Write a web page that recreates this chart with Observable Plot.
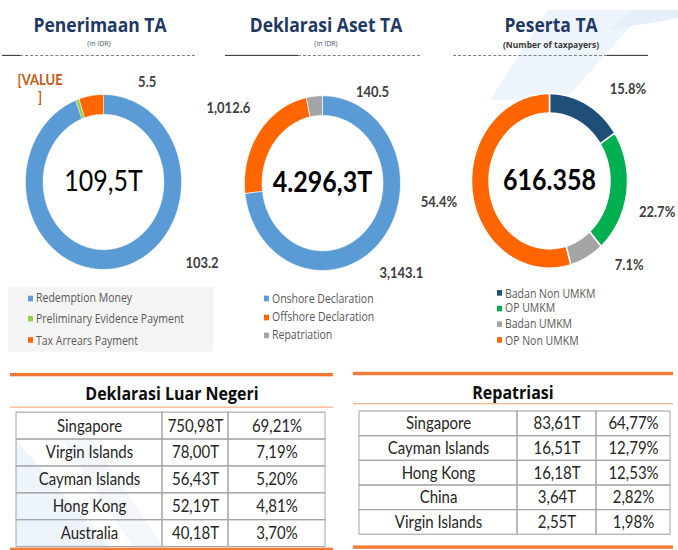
<!DOCTYPE html>
<html><head><meta charset="utf-8">
<script src="https://cdn.jsdelivr.net/npm/d3@7"></script>
<script src="https://cdn.jsdelivr.net/npm/@observablehq/plot@0.6"></script>
<style>
html,body{margin:0;padding:0;background:#fff;width:678px;height:550px;overflow:hidden;}
#page{position:relative;width:678px;height:491px;transform:scaleY(1.12);transform-origin:0 0;overflow:visible;font-family:Lato,sans-serif;}
#page svg{overflow:visible;}
</style></head><body><div id="page"></div>
<script>
// ---------- data ----------
const receiptCategories = ["Redemption Money", "Preliminary Evidence Payment", "Tax Arrears Payment"];
const receiptValues = [103.2, 0.8, 5.5];
const receiptLabels = ["103.2", "[VALUE\n]", "5.5"];
const receiptTotal = "109,5T";

const assetCategories = ["Onshore Declaration", "Offshore Declaration", "Repatriation"];
const assetValues = [3143.1, 1012.6, 140.5];
const assetLabels = ["3,143.1", "1,012.6", "140.5"];
const assetTotal = "4.296,3T";

const participantCategories = ["Badan Non UMKM", "OP UMKM", "Badan UMKM", "OP Non UMKM"];
const participantShares = [15.8, 22.7, 7.1, 54.4];
const participantLabels = ["15.8%", "22.7%", "7.1%", "54.4%"];
const participantTotal = "616.358";

const offshoreCountries = ["Singapore", "Virgin Islands", "Cayman Islands", "Hong Kong", "Australia"];
const offshoreAmounts = ["750,98T", "78,00T", "56,43T", "52,19T", "40,18T"];
const offshoreShares = ["69,21%", "7,19%", "5,20%", "4,81%", "3,70%"];

const repatCountries = ["Singapore", "Cayman Islands", "Hong Kong", "China", "Virgin Islands"];
const repatAmounts = ["83,61T", "16,51T", "16,18T", "3,64T", "2,55T"];
const repatShares = ["64,77%", "12,79%", "12,53%", "2,82%", "1,98%"];

// ---------- styles ----------
const S = 1.12; // vertical stretch of the reference
const receiptColors = ["#5B9BD5", "#92D050", "#FF6600"];
const assetColors = ["#5B9BD5", "#FF6600", "#A5A5A5"];
const participantColors = ["#1F4E79", "#00B050", "#A5A5A5", "#FF6600"];

const page = document.getElementById("page");
function add(el, css) { el.style.position = "absolute"; Object.assign(el.style, css); page.appendChild(el); return el; }
function text(t, x, yRef, css, align = "center") {
  const d = document.createElement("div");
  d.textContent = t; d.style.whiteSpace = "pre"; d.style.lineHeight = "1";
  d.style.transform = `translate(${align === "center" ? "-50%" : "0"},-50%)`;
  return add(d, Object.assign({left: x + "px", top: (yRef / S) + "px"}, css));
}
function hline(x1, x2, yRef, w, style, color) {
  add(document.createElement("div"), {left: x1 + "px", top: (yRef / S - w / 2) + "px", width: (x2 - x1) + "px", height: "0", borderTop: `${w}px ${style} ${color}`});
}

// ---------- faint background decoration ----------
(function () {
  const ns = "http://www.w3.org/2000/svg";
  const bg = document.createElementNS(ns, "svg");
  bg.setAttribute("width", 678); bg.setAttribute("height", 491);
  const shapes = [
    {p: [[490, 100], [548, 10], [645, 10], [565, 100]], c: "#EDF4FB"},
    {p: [[610, 30], [632, 10], [678, 10], [678, 18]], c: "#E6EFF9"},
    {p: [[16, 440], [16, 550], [112, 550]], c: "#EEF4FB"},
    {p: [[62, 440], [92, 440], [165, 550], [135, 550]], c: "#F3F7FC"}
  ];
  shapes.forEach(s => {
    const poly = document.createElementNS(ns, "polygon");
    poly.setAttribute("points", s.p.map(([x, y]) => `${x},${y / S}`).join(" "));
    poly.setAttribute("fill", s.c);
    bg.appendChild(poly);
  });
  add(bg, {left: "0px", top: "0px"});
})();

// ---------- titles ----------
const titleCss = {fontFamily: "'Open Sans'", fontWeight: "700", fontSize: "17.5px", color: "#1F3864"};
text("Penerimaan TA", 100, 25, titleCss);
text("Deklarasi Aset TA", 326, 25, titleCss);
text("Peserta TA", 551, 25, titleCss);
const subCss = {fontFamily: "'Open Sans'", fontSize: "7px", color: "#44546A"};
text("(in IDR)", 99, 44, subCss);
text("(in IDR)", 326, 44, subCss);
text("(Number of taxpayers)", 551, 45, Object.assign({}, subCss, {fontSize: "8.5px", fontWeight: "700", color: "#3B3838"}));
hline(2, 20, 55, 1, "solid", "#404040"); hline(20, 195, 55, 1, "dashed", "#7F7F7F");
hline(225, 298, 55, 1, "solid", "#404040"); hline(298, 420, 55, 1, "dashed", "#7F7F7F");
hline(453, 607, 55, 1, "dashed", "#7F7F7F"); hline(607, 648, 55, 1, "solid", "#404040");

// ---------- donuts ----------
function donut({categories, values, labels, colors, labelColors, nudges, center, centerWeight, sepWidth, cx, cyRef}) {
  const R = 78, inner = 0.775, half = 140, dom = half / R;
  const arcs = d3.pie().sort(null).value(d => d)(values);
  const pts = [];
  arcs.forEach((a, i) => {
    const n = Math.max(2, Math.ceil((a.endAngle - a.startAngle) / (Math.PI / 180)));
    for (let k = 0; k <= n; k++) { const t = a.startAngle + (a.endAngle - a.startAngle) * k / n; pts.push({cat: categories[i], x: Math.sin(t), y: Math.cos(t)}); }
    for (let k = n; k >= 0; k--) { const t = a.startAngle + (a.endAngle - a.startAngle) * k / n; pts.push({cat: categories[i], x: inner * Math.sin(t), y: inner * Math.cos(t)}); }
  });
  const labs = arcs.map((a, i) => {
    const m = (a.startAngle + a.endAngle) / 2;
    return {i, text: labels[i], x: 1.25 * Math.sin(m) + nudges[i][0] / R, y: 1.25 * Math.cos(m) - nudges[i][1] / R};
  });
  const svg = Plot.plot({
    width: 2 * half, height: 2 * half, margin: 0,
    x: {domain: [-dom, dom], axis: null}, y: {domain: [-dom, dom], axis: null},
    color: {domain: categories, range: colors},
    style: {background: "transparent", overflow: "visible"},
    marks: [
      Plot.line(pts, {x: "x", y: "y", z: "cat", fill: "cat", stroke: "white", strokeWidth: sepWidth, curve: "linear-closed"}),
      Plot.text(labs, {x: "x", y: "y", text: "text", fill: d => labelColors[d.i], fontFamily: "Lato", fontWeight: "bold", fontSize: 13, lineHeight: 1.15}),
      Plot.text([center], {x: () => 0, y: () => 0, text: d => d, fontFamily: "Lato", fontWeight: centerWeight, fontSize: 25, fill: "#000"})
    ]
  });
  add(svg, {left: (cx - half) + "px", top: (cyRef / S - half) + "px"});
}
donut({categories: receiptCategories, values: receiptValues, labels: receiptLabels, colors: receiptColors,
  labelColors: ["#404040", "#C55A11", "#404040"], nudges: [[81, -24], [-31, 8], [59, 7]],
  center: receiptTotal, centerWeight: "normal", sepWidth: 0.4, cx: 103, cyRef: 181});
donut({categories: assetCategories, values: assetValues, labels: assetLabels, colors: assetColors,
  labelColors: ["#404040", "#404040", "#404040"], nudges: [[6, 15], [-15, -10], [60, 15]],
  center: assetTotal, centerWeight: "bold", sepWidth: 0.6, cx: 322, cyRef: 182});
donut({categories: participantCategories, values: participantShares, labels: participantLabels, colors: participantColors,
  labelColors: ["#404040", "#404040", "#404040", "#404040"], nudges: [[32, 3], [11, 14], [33, -11], [-14, 5]],
  center: participantTotal, centerWeight: "bold", sepWidth: 1.5, cx: 549, cyRef: 180});

// ---------- legends ----------
add(document.createElement("div"), {left: "8px", top: (287 / S) + "px", width: "205px", height: ((352 - 287) / S) + "px", background: "#F4F4F4"});
function legend(cats, colors, mx, ys) {
  cats.forEach((c, i) => {
    add(document.createElement("div"), {left: mx + "px", top: (ys[i] / S - 2.5) + "px", width: "5px", height: "5px", background: colors[i]});
    text(c, mx + 8, ys[i], {fontFamily: "'Open Sans'", fontSize: "10.5px", color: "#595959"}, "left");
  });
}
legend(receiptCategories, receiptColors, 28, [298, 319, 340]);
legend(assetCategories, assetColors, 264, [299, 317, 335]);
legend(participantCategories, participantColors, 497, [293, 308, 324, 340]);

// ---------- tables ----------
function table({title, names, amounts, shares, edges, x, yTopRef, yBotRef, lineX1, lineX2, lineTopRef, lineMidRef, lineBotRef, titleX, titleYRef}) {
  hline(lineX1, lineX2, lineTopRef, 3, "solid", "#F47A33");
  hline(lineX1, lineX2, lineMidRef, 1.5, "solid", "#F8A878");
  hline(lineX1, lineX2, lineBotRef, 3, "solid", "#F47A33");
  text(title, titleX, titleYRef, {fontFamily: "'Open Sans'", fontWeight: "700", fontSize: "16px", color: "#0D0D0D"});
  const cells = [];
  names.forEach((n, r) => [n, amounts[r], shares[r]].forEach((t, c) => cells.push({row: n, x1: edges[c], x2: edges[c + 1], text: t})));
  const w = edges[3] - edges[0], h = (yBotRef - yTopRef) / S;
  const svg = Plot.plot({
    width: w, height: h, margin: 0,
    x: {domain: [edges[0], edges[3]], axis: null},
    y: {domain: names, padding: 0, axis: null},
    style: {background: "transparent", overflow: "visible"},
    marks: [
      Plot.barX(cells, {x1: "x1", x2: "x2", y: "row", fill: "none", stroke: "#A6A6A6", strokeWidth: 1}),
      Plot.text(cells, {x: d => (d.x1 + d.x2) / 2, y: "row", text: "text", fontFamily: "Lato", fontSize: 15, fill: "#262626"})
    ]
  });
  add(svg, {left: x + "px", top: (yTopRef / S) + "px"});
}
table({title: "Deklarasi Luar Negeri", names: offshoreCountries, amounts: offshoreAmounts, shares: offshoreShares,
  edges: [0, 146, 212, 309], x: 16, yTopRef: 410, yBotRef: 548, lineX1: 10, lineX2: 333,
  lineTopRef: 375, lineMidRef: 407, lineBotRef: 549, titleX: 172, titleYRef: 393});
table({title: "Repatriasi", names: repatCountries, amounts: repatAmounts, shares: repatShares,
  edges: [0, 158, 237, 311], x: 359, yTopRef: 410, yBotRef: 535, lineX1: 353, lineX2: 673,
  lineTopRef: 373, lineMidRef: 404, lineBotRef: 547, titleX: 513, titleYRef: 392});
</script></body></html>
